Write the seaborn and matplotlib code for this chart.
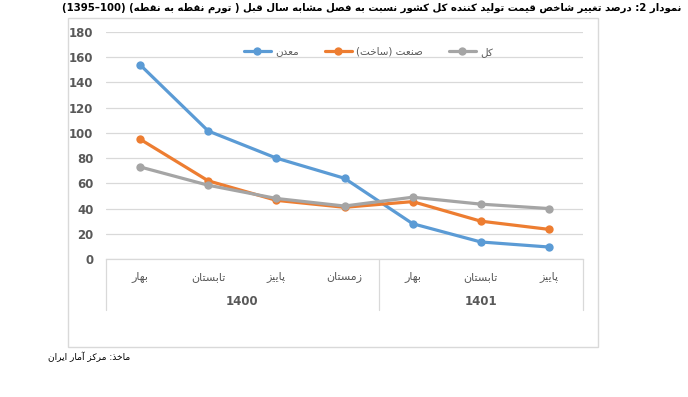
import re
import numpy as np
import pandas as pd
import seaborn as sns
import matplotlib
matplotlib.use('Agg')
import matplotlib.pyplot as plt
from matplotlib.patches import Rectangle

# داده‌ها
SEASONS = ['بهار', 'تابستان', 'پاییز', 'زمستان', 'بهار', 'تابستان', 'پاییز']
YEARS = ['1400', '1401']
YEAR_SPANS = [(0, 3), (4, 6)]
SERIES = ['معدن', 'صنعت (ساخت)', 'کل']
MADAN = [154, 101.5, 80, 64, 28, 13.5, 9.5]
SANAT = [95, 62, 46.5, 41, 45.5, 30, 23.5]
KOL = [73, 58.5, 48, 42, 49, 43.5, 40]
Y_TICKS = [0, 20, 40, 60, 80, 100, 120, 140, 160, 180]

TITLE = 'نمودار 2: درصد تغییر شاخص قیمت تولید کننده کل کشور نسبت به فصل مشابه سال قبل ( تورم نقطه به نقطه) (100–1395)'
SOURCE = 'ماخذ: مرکز آمار ایران'

COLORS = ['#5B9BD5', '#ED7D31', '#A5A5A5']

# matplotlib does no arabic shaping, so use presentation forms + reverse
RIGHT_JOIN = {
    'ا': (0xFE8D, 0xFE8E), 'آ': (0xFE81, 0xFE82), 'د': (0xFEA9, 0xFEAA),
    'ذ': (0xFEAB, 0xFEAC), 'ر': (0xFEAD, 0xFEAE), 'ز': (0xFEAF, 0xFEB0),
    'ژ': (0xFB8A, 0xFB8B), 'و': (0xFEED, 0xFEEE),
}
DUAL_JOIN = {
    'ب': 0xFE8F, 'پ': 0xFB56, 'ت': 0xFE95, 'ث': 0xFE99, 'ج': 0xFE9D,
    'چ': 0xFB7A, 'ح': 0xFEA1, 'خ': 0xFEA5, 'س': 0xFEB1, 'ش': 0xFEB5,
    'ص': 0xFEB9, 'ض': 0xFEBD, 'ط': 0xFEC1, 'ظ': 0xFEC5, 'ع': 0xFEC9,
    'غ': 0xFECD, 'ف': 0xFED1, 'ق': 0xFED5, 'ک': 0xFB8E, 'گ': 0xFB92,
    'ل': 0xFEDD, 'م': 0xFEE1, 'ن': 0xFEE5, 'ه': 0xFEE9, 'ی': 0xFBFC,
}
MIRROR = {'(': ')', ')': '('}


def fa(text):
    text = text.replace('ك', 'ک').replace('ي', 'ی')
    out = []
    for i, ch in enumerate(text):
        prev = text[i - 1] if i > 0 else ''
        nxt = text[i + 1] if i + 1 < len(text) else ''
        join_prev = prev in DUAL_JOIN
        join_next = nxt in DUAL_JOIN or nxt in RIGHT_JOIN
        if ch in RIGHT_JOIN:
            iso, fin = RIGHT_JOIN[ch]
            out.append(chr(fin if join_prev else iso))
        elif ch in DUAL_JOIN:
            base = DUAL_JOIN[ch]
            if join_prev and join_next:
                out.append(chr(base + 3))
            elif join_prev:
                out.append(chr(base + 1))
            elif join_next:
                out.append(chr(base + 2))
            else:
                out.append(chr(base))
        else:
            out.append(ch)
    shaped = ''.join(out)
    # visual order: reverse, keep digit runs LTR
    parts = re.findall(r'[0-9A-Za-z.]+|.', shaped)
    parts = [MIRROR.get(p, p) for p in reversed(parts)]
    return ''.join(parts)


sns.set_theme(style='white')
plt.rcParams['font.family'] = ['DejaVu Sans']

df = pd.DataFrame({
    'pos': list(range(len(SEASONS))) * 3,
    'value': MADAN + SANAT + KOL,
    'series': [fa(s) for s in SERIES for _ in SEASONS],
})

fig = plt.figure(figsize=(6.88, 3.97), dpi=100)
W, H = 688, 397

# chart frame
fig.patches.append(Rectangle((68 / W, 1 - 347 / H), (598 - 68) / W, (347 - 18) / H,
                             transform=fig.transFigure, fill=False,
                             edgecolor='#D9D9D9', linewidth=1.0))

ax = fig.add_axes([106 / W, 1 - 259 / H, (583 - 106) / W, (259 - 32) / H])
sns.lineplot(data=df, x='pos', y='value', hue='series',
             palette=COLORS, marker='o', markersize=6, markeredgewidth=0,
             linewidth=2.3, ax=ax)

ax.set_xlim(-0.5, len(SEASONS) - 0.5)
ax.set_ylim(0, 180)
ax.set_yticks(Y_TICKS)
ax.set_yticklabels([str(t) for t in Y_TICKS], fontsize=8.5, fontweight='bold', color='#595959')
ax.tick_params(axis='y', length=0, pad=9)
ax.set_xticks([])
ax.set_xlabel('')
ax.set_ylabel('')
ax.grid(axis='y', color='#D9D9D9', linewidth=0.9)
for s in ['top', 'right', 'left']:
    ax.spines[s].set_visible(False)
ax.spines['bottom'].set_color('#D9D9D9')
ax.spines['bottom'].set_linewidth(0.9)

# category table below the axis
trans = ax.get_xaxis_transform()
for i, name in enumerate(SEASONS):
    ax.text(i, -0.079, fa(name), transform=trans, ha='center', va='center',
            fontsize=8, color='#595959')
for yr, (a, b) in zip(YEARS, YEAR_SPANS):
    ax.text((a + b) / 2, -0.189, yr, transform=trans, ha='center', va='center',
            fontsize=8.5, fontweight='bold', color='#595959')
for xv in [-0.5, 3.5, 6.5]:
    ax.plot([xv, xv], [0, -0.225], transform=trans, color='#D9D9D9',
            linewidth=0.9, clip_on=False)

leg = ax.legend(loc='center', bbox_to_anchor=(0.55, 0.912), ncol=3, frameon=False,
                fontsize=7.5, handlelength=2.6, columnspacing=2.5, handletextpad=0.4)
for t in leg.get_texts():
    t.set_color('#595959')

title = fig.text(681 / W, 1 - 8 / H, fa(TITLE), ha='right', va='center',
                 fontsize=9, fontweight='bold', color='black')
# shrink title so it fits between x=55 and x=681
renderer = fig.canvas.get_renderer()
tw = title.get_window_extent(renderer).width
title.set_fontsize(9 * min(1.0, (681 - 55) / tw))

fig.text(48 / W, 1 - 357 / H, fa(SOURCE), ha='left', va='center',
         fontsize=6.5, color='black')

fig.savefig('out.png', dpi=100)
